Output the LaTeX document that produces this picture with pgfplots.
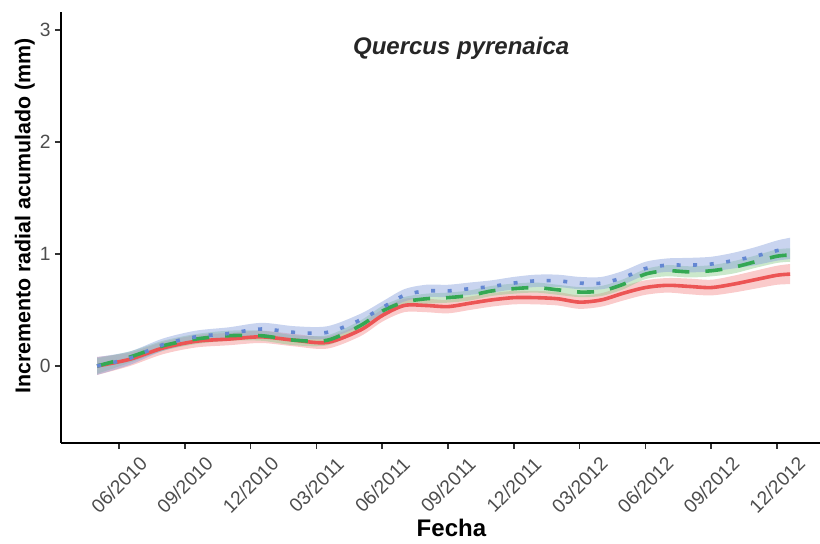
\documentclass[border=0pt]{standalone}
\usepackage{fontspec}
\setmainfont{Liberation Sans}
\setsansfont{Liberation Sans}
\usepackage{pgfplots}
\pgfplotsset{compat=1.18}
\usepackage{pgfplotstable}
\usepgfplotslibrary{fillbetween}
\usetikzlibrary{calc}
\definecolor{cred}{RGB}{236,84,84}
\definecolor{cgreen}{RGB}{52,168,83}
\definecolor{cblue}{RGB}{100,135,210}
\definecolor{fred}{RGB}{245,140,140}
\definecolor{fgreen}{RGB}{140,205,140}
\definecolor{fblue}{RGB}{135,160,220}
\definecolor{tickgray}{RGB}{77,77,77}
% x = month index (06/2010 = 6, 12/2012 = 36)
\pgfplotstableread{
x    r    rw    g    gw    b    bw
5.0  0.00 0.08  0.00 0.07  0.00 0.08
6.5  0.06 0.06  0.08 0.05  0.07 0.06
8.0  0.16 0.055 0.18 0.045 0.19 0.055
9.5  0.22 0.055 0.24 0.045 0.26 0.055
11.0 0.24 0.055 0.27 0.045 0.29 0.055
12.5 0.26 0.055 0.27 0.045 0.33 0.055
14.0 0.23 0.055 0.23 0.045 0.30 0.055
15.5 0.21 0.055 0.23 0.045 0.30 0.055
17.0 0.32 0.055 0.36 0.045 0.41 0.055
18.0 0.45 0.055 0.49 0.045 0.52 0.055
19.0 0.54 0.06  0.57 0.045 0.63 0.055
20.0 0.54 0.06  0.60 0.045 0.67 0.055
21.0 0.53 0.06  0.61 0.045 0.67 0.055
22.0 0.56 0.06  0.63 0.045 0.69 0.055
23.0 0.59 0.06  0.67 0.045 0.71 0.055
24.0 0.61 0.06  0.69 0.045 0.74 0.055
25.0 0.61 0.06  0.70 0.045 0.76 0.055
26.0 0.60 0.06  0.68 0.045 0.76 0.055
27.0 0.57 0.06  0.66 0.045 0.74 0.055
28.0 0.59 0.06  0.67 0.045 0.74 0.055
29.0 0.65 0.065 0.73 0.045 0.79 0.06
30.0 0.70 0.065 0.82 0.045 0.87 0.06
31.0 0.72 0.065 0.85 0.05  0.90 0.06
32.0 0.71 0.07  0.84 0.05  0.90 0.065
33.0 0.70 0.07  0.85 0.05  0.91 0.065
34.0 0.73 0.075 0.88 0.055 0.94 0.07
35.0 0.77 0.08  0.93 0.055 0.98 0.08
36.0 0.81 0.085 0.98 0.06  1.03 0.09
36.6 0.82 0.09  0.99 0.06  1.05 0.095
}\data
\begin{document}
\begin{tikzpicture}
\begin{axis}[
  name=ax,
  scale only axis,
  width=379.5pt, height=215.5pt,
  xmin=3.355, xmax=37.96,
  ymin=-0.6875, ymax=3.16,
  axis lines=left,
  axis line style={line width=1pt, -},
  xtick={6,9,12,15,18,21,24,27,30,33,36},
  xticklabels={06/2010,09/2010,12/2010,03/2011,06/2011,09/2011,12/2011,03/2012,06/2012,09/2012,12/2012},
  ytick={0,1,2,3},
  tick align=outside,
  major tick length=3pt,
  tick style={line width=0.8pt, black!80},
  ticklabel style={font=\fontsize{9.6}{11}\selectfont, text=tickgray},
  /pgf/number format/assume math mode=true,
  xticklabel style={yshift=-18pt, rotate=45, anchor=center, inner sep=0pt},
  yticklabel style={inner sep=2pt},
  xlabel={\textbf{Fecha}},
  xlabel style={font=\fontsize{12}{14}\selectfont, yshift=1pt, xshift=5.5pt},
  ylabel={\textbf{Incremento radial acumulado (mm)}},
  ylabel style={font=\fontsize{10.7}{12}\selectfont, at={(ticklabel cs:0.527)}, yshift=-3pt},
  clip=false,
]
% ribbons
\addplot[name path=rhi, draw=none, smooth, forget plot] table[x=x, y expr=\thisrow{r}+\thisrow{rw}]{\data};
\addplot[name path=rlo, draw=none, smooth, forget plot] table[x=x, y expr=\thisrow{r}-\thisrow{rw}]{\data};
\addplot[fill=fred, fill opacity=0.45, draw=none, forget plot] fill between[of=rhi and rlo];
\addplot[name path=ghi, draw=none, smooth, forget plot] table[x=x, y expr=\thisrow{g}+\thisrow{gw}]{\data};
\addplot[name path=glo, draw=none, smooth, forget plot] table[x=x, y expr=\thisrow{g}-\thisrow{gw}]{\data};
\addplot[fill=fgreen, fill opacity=0.45, draw=none, forget plot] fill between[of=ghi and glo];
\addplot[name path=bhi, draw=none, smooth, forget plot] table[x=x, y expr=\thisrow{b}+\thisrow{bw}]{\data};
\addplot[name path=blo, draw=none, smooth, forget plot] table[x=x, y expr=\thisrow{b}-\thisrow{bw}]{\data};
\addplot[fill=fblue, fill opacity=0.45, draw=none, forget plot] fill between[of=bhi and blo];
% lines
\addplot[cred, line width=1.8pt, smooth, no marks] table[x=x, y=r]{\data};
\addplot[cgreen, line width=1.8pt, smooth, no marks, dash pattern=on 8.5pt off 8pt] table[x=x, y=g]{\data};
\addplot[cblue, line width=1.8pt, smooth, no marks, dash pattern=on 2pt off 6.3pt] table[x=x, y=b]{\data};
\node[font=\fontsize{12}{14}\selectfont\bfseries\itshape, text=black!85] at (axis cs:21.6,2.835) {Quercus pyrenaica};
\end{axis}
\pgfresetboundingbox
\path ($(ax.south west)+(-30.5pt,-50.5pt)$) rectangle ($(ax.north east)+(0pt,6pt)$);
\end{tikzpicture}
\end{document}
